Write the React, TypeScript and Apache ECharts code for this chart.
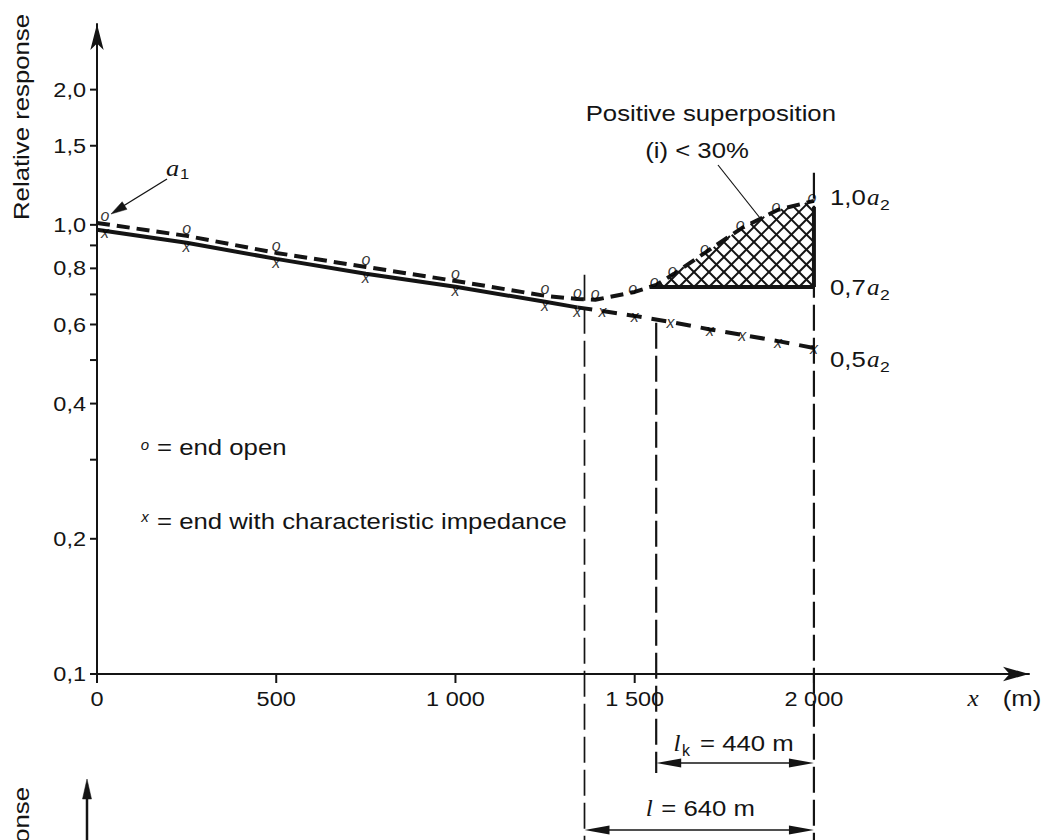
import React, { useEffect, useRef } from 'react';
import * as echarts from 'echarts';

const FONT = "'Liberation Sans', Arial, Helvetica, sans-serif";
const SERIF = "'Liberation Serif', 'Times New Roman', serif";
const INK = '#141414';
const STRETCH = 1.17;

// "o" = end open
const openX = [0, 250, 500, 750, 1000, 1250, 1340, 1390, 1500, 1560, 1610, 1700, 1800, 1900, 2000];
const openY = [1.01, 0.945, 0.866, 0.806, 0.75, 0.695, 0.684, 0.681, 0.709, 0.735, 0.778, 0.871, 0.985, 1.08, 1.131];

// "x" = end with characteristic impedance
const impX = [0, 250, 500, 750, 1000, 1250, 1340, 1410, 1500, 1600, 1710, 1800, 1900, 2000];
const impY = [0.975, 0.912, 0.84, 0.778, 0.728, 0.674, 0.655, 0.643, 0.627, 0.608, 0.585, 0.569, 0.551, 0.532];
const impSolidEnd = 1340;

// axes
const yTicks = [0.1, 0.2, 0.3, 0.4, 0.5, 0.6, 0.7, 0.8, 0.9, 1.0, 1.5, 2.0];
const yTickLabels = ['0,1', '0,2', '', '0,4', '', '0,6', '', '0,8', '', '1,0', '1,5', '2,0'];
const xTicks = [0, 500, 1000, 1500, 2000];
const xTickLabels = ['0', '500', '1 000', '1 500', '2 000'];
const yMin = 0.1;
const yMax = 2.8;
const xMin = 0;
const xMax = 2600;

// geometry of the line
const lineEnd = 2000;
const lineLength = 640; // l
const criticalLength = 440; // l_k
const hatchLevel = 0.727; // 0,7 a2
const guideX = [lineEnd - lineLength, lineEnd - criticalLength, lineEnd];
const guideTop = [0.774, 0.605, 1.306];
const dimLengths = [criticalLength, lineLength];
const dimSubs = ['k', ''];

const openData = openX.map((x, i) => [x, openY[i]]);
const impData = impX.map((x, i) => [x, impY[i]]);
const impSolid = impData.filter((d) => d[0] <= impSolidEnd);
const impDashed = impData.filter((d) => d[0] >= impSolidEnd);
const openMinIdx = openY.indexOf(Math.min(...openY));

type TOpt = { size?: number; family?: string; italic?: boolean; align?: string; rot?: number; sx?: number };
function txt(text: string, x: number, y: number, o: TOpt = {}) {
  const size = o.size ?? 22;
  const fam = o.family ?? FONT;
  const align = o.align ?? 'left';
  return {
    type: 'text',
    x,
    y,
    rotation: o.rot ?? 0,
    scaleX: o.sx ?? STRETCH,
    silent: true,
    z: 20,
    style: {
      text,
      fill: INK,
      font: `${o.italic ? 'italic ' : ''}${size}px ${fam}`,
      textAlign: align,
      textVerticalAlign: 'middle',
      align,
      verticalAlign: 'middle',
    },
  };
}

function arrowHead(tip: number[], from: number[], len: number, half: number) {
  const dx = tip[0] - from[0];
  const dy = tip[1] - from[1];
  const d = Math.hypot(dx, dy) || 1;
  const ux = dx / d;
  const uy = dy / d;
  const bx = tip[0] - ux * len;
  const by = tip[1] - uy * len;
  return {
    type: 'polygon',
    silent: true,
    z: 20,
    shape: { points: [tip, [bx - uy * half, by + ux * half], [bx + uy * half, by - ux * half]] },
    style: { fill: INK, stroke: INK, lineWidth: 0.5 },
  };
}

function seg(x1: number, y1: number, x2: number, y2: number, w: number, dash?: number[]) {
  return {
    type: 'line',
    silent: true,
    z: 20,
    shape: { x1, y1, x2, y2 },
    style: { stroke: INK, lineWidth: w, lineDash: dash },
  };
}

function buildOption() {
  const glyphLabel = {
    show: true,
    position: 'inside',
    fontFamily: FONT,
    fontStyle: 'italic',
    fontSize: 16,
    lineHeight: 12,
    color: '#000',
  };

  const graphic: any[] = [
    txt('Relative response', 21, 117, { align: 'center', rot: Math.PI / 2 }),
    txt('Relative response', 21, 890, { align: 'center', rot: Math.PI / 2 }),
    seg(87, 840, 87, 795, 2.5),
    arrowHead([87, 779], [87, 840], 20, 4.5),
    txt('a', 166, 168, { family: SERIF, italic: true, size: 24, sx: 1.1 }),
    txt('1', 180, 174, { size: 15, sx: 1.1 }),
    seg(167, 179, 120, 208, 1.4),
    arrowHead([111, 214], [167, 179], 16, 4.5),
    txt('Positive superposition', 836, 113, { align: 'right' }),
    txt('(i) < 30%', 697, 150, { align: 'center' }),
    seg(718, 165, 760, 218, 1.2),
    txt('1,0', 830, 197),
    txt('a', 867, 197, { family: SERIF, italic: true, size: 24, sx: 1.05 }),
    txt('2', 880, 204, { size: 15 }),
    txt('0,7', 830, 287),
    txt('a', 867, 287, { family: SERIF, italic: true, size: 24, sx: 1.05 }),
    txt('2', 880, 294, { size: 15 }),
    txt('0,5', 830, 359),
    txt('a', 867, 359, { family: SERIF, italic: true, size: 24, sx: 1.05 }),
    txt('2', 880, 366, { size: 15 }),
    txt('o', 145, 444, { italic: true, size: 15, align: 'center', sx: 1 }),
    txt('= end open', 157, 447),
    txt('x', 145, 516, { italic: true, size: 15, align: 'center', sx: 1 }),
    txt('= end with characteristic impedance', 157, 521),
    txt('x', 973, 698, { family: SERIF, italic: true, size: 24, align: 'center', sx: 1.05 }),
    txt('(m)', 1022, 698, { align: 'center' }),
  ];

  return {
    animation: false,
    backgroundColor: '#fff',
    textStyle: { fontFamily: FONT },
    grid: { left: 97, right: 16, top: 24, bottom: 166, containLabel: false },
    xAxis: {
      type: 'value',
      min: xMin,
      max: xMax,
      axisLine: { show: true, symbol: ['none', 'arrow'], symbolSize: [11, 26], lineStyle: { color: INK, width: 2 } },
      axisTick: { show: false },
      axisLabel: { show: false },
      splitLine: { show: false },
    },
    yAxis: {
      type: 'log',
      logBase: 10,
      min: yMin,
      max: yMax,
      axisLine: { show: true, symbol: ['none', 'arrow'], symbolSize: [10, 26], lineStyle: { color: INK, width: 2 } },
      axisTick: { show: false },
      axisLabel: { show: false },
      splitLine: { show: false },
      minorTick: { show: false },
      minorSplitLine: { show: false },
    },
    graphic,
    series: [
      {
        name: 'end open',
        type: 'line',
        data: openData,
        symbol: 'none',
        z: 3,
        lineStyle: { color: INK, width: 4, type: [13, 7] },
        silent: true,
      },
      {
        name: 'end with characteristic impedance',
        type: 'line',
        data: impSolid,
        symbol: 'none',
        z: 3,
        lineStyle: { color: INK, width: 4, type: 'solid' },
        silent: true,
      },
      {
        name: 'end with characteristic impedance (dashed)',
        type: 'line',
        data: impDashed,
        symbol: 'none',
        z: 3,
        lineStyle: { color: INK, width: 4, type: [15, 10] },
        silent: true,
      },
      {
        type: 'scatter',
        symbol: 'circle',
        symbolSize: 1,
        itemStyle: { color: 'rgba(0,0,0,0)' },
        z: 6,
        silent: true,
        data: openData.map((d, i) => ({
          value: d,
          label: { offset: i === 0 ? [8, -7] : i <= 5 ? [0, -7] : i <= openMinIdx ? [0, -6] : [-2, -3] },
        })),
        label: { ...glyphLabel, formatter: 'o' },
      },
      {
        type: 'scatter',
        symbol: 'circle',
        symbolSize: 1,
        itemStyle: { color: 'rgba(0,0,0,0)' },
        z: 6,
        silent: true,
        data: impData.map((d, i) => ({
          value: d,
          label: { offset: i === 0 ? [8, 3] : i <= 6 ? [0, 4] : [0, 1] },
        })),
        label: { ...glyphLabel, formatter: 'x' },
      },
      // hatched area of positive superposition
      {
        type: 'custom',
        coordinateSystem: 'cartesian2d',
        silent: true,
        clip: false,
        z: 4,
        data: [[lineEnd, hatchLevel]],
        renderItem: (params: any, api: any) => {
          const end = api.coord([lineEnd, hatchLevel]);
          const yL = end[1];
          const pts = openData.map((d) => api.coord(d));
          let start = -1;
          let cross: number[] | null = null;
          for (let i = openMinIdx + 1; i < pts.length; i++) {
            if (pts[i][1] < yL && pts[i - 1][1] >= yL) {
              const a = pts[i - 1];
              const b = pts[i];
              const t = (yL - a[1]) / (b[1] - a[1]);
              cross = [a[0] + t * (b[0] - a[0]), yL];
              start = i;
              break;
            }
          }
          if (!cross) return null;
          const top = pts.slice(start);
          const last = top[top.length - 1];
          const poly = [cross, ...top, [last[0], yL]];
          const children: any[] = [];
          const step = 15;
          [1, -1].forEach((s) => {
            const cs = poly.map((p) => p[1] - s * p[0]);
            const cMin = Math.min(...cs);
            const cMax = Math.max(...cs);
            const base = yL - s * last[0];
            for (let k = Math.ceil((cMin - base) / step); base + k * step <= cMax; k++) {
              const c = base + k * step;
              const hits: number[] = [];
              for (let j = 0; j < poly.length; j++) {
                const P = poly[j];
                const Q = poly[(j + 1) % poly.length];
                const fP = P[1] - s * P[0] - c;
                const fQ = Q[1] - s * Q[0] - c;
                if ((fP <= 0 && fQ > 0) || (fP > 0 && fQ <= 0)) {
                  const t = fP / (fP - fQ);
                  hits.push(P[0] + t * (Q[0] - P[0]));
                }
              }
              hits.sort((a, b) => a - b);
              for (let h = 0; h + 1 < hits.length; h += 2) {
                children.push({
                  type: 'line',
                  shape: { x1: hits[h], y1: s * hits[h] + c, x2: hits[h + 1], y2: s * hits[h + 1] + c },
                  style: { stroke: INK, lineWidth: 2 },
                });
              }
            }
          });
          children.push({ type: 'line', shape: { x1: cross[0], y1: yL, x2: last[0], y2: yL }, style: { stroke: INK, lineWidth: 4 } });
          children.push({ type: 'line', shape: { x1: last[0], y1: yL, x2: last[0], y2: last[1] + 6 }, style: { stroke: INK, lineWidth: 4 } });
          return { type: 'group', children };
        },
      },
      // vertical guide lines
      {
        type: 'custom',
        coordinateSystem: 'cartesian2d',
        silent: true,
        clip: false,
        z: 2,
        data: guideX.map((x, i) => [x, guideTop[i]]),
        renderItem: (params: any, api: any) => {
          const i = params.dataIndex;
          const top = api.coord([api.value(0), api.value(1)]);
          const axisY = api.coord([api.value(0), yMin])[1];
          const drop = [170, 99, 170][i];
          const width = [1.7, 2.2, 2.2][i];
          return {
            type: 'line',
            shape: { x1: top[0], y1: top[1], x2: top[0], y2: axisY + drop },
            style: { stroke: INK, lineWidth: width, lineDash: [26, 7] },
          };
        },
      },
      // dimension arrows l and l_k
      {
        type: 'custom',
        coordinateSystem: 'cartesian2d',
        silent: true,
        clip: false,
        z: 5,
        data: dimLengths.map((L) => [lineEnd - L, yMin]),
        renderItem: (params: any, api: any) => {
          const i = params.dataIndex;
          const a = api.coord([api.value(0), yMin]);
          const b = api.coord([lineEnd, yMin]);
          const y = a[1] + [89, 156][i];
          const mid = (a[0] + b[0]) / 2;
          const L = lineEnd - api.value(0);
          const kids: any[] = [
            { type: 'line', shape: { x1: a[0] + 20, y1: y, x2: b[0] - 20, y2: y }, style: { stroke: INK, lineWidth: 1.6 } },
            { type: 'polygon', shape: { points: [[a[0], y], [a[0] + 25, y - 4.5], [a[0] + 25, y + 4.5]] }, style: { fill: INK } },
            { type: 'polygon', shape: { points: [[b[0], y], [b[0] - 25, y - 4.5], [b[0] - 25, y + 4.5]] }, style: { fill: INK } },
          ];
          const sub = dimSubs[i];
          const ty = y - (sub ? 20 : 22);
          const lx = mid - (sub ? 58 : 50);
          const ex = mid - (sub ? 35 : 38);
          kids.push({
            type: 'text', x: lx, y: ty, scaleX: 1.05,
            style: { text: 'l', fill: INK, font: `italic 24px ${SERIF}`, align: 'center', verticalAlign: 'middle', textAlign: 'center', textVerticalAlign: 'middle' },
          });
          if (sub) {
            kids.push({
              type: 'text', x: mid - 53, y: ty + 7,
              style: { text: sub, fill: INK, font: `16px ${FONT}`, align: 'left', verticalAlign: 'middle', textAlign: 'left', textVerticalAlign: 'middle' },
            });
          }
          kids.push({
            type: 'text', x: ex, y: ty, scaleX: STRETCH,
            style: { text: `= ${L} m`, fill: INK, font: `22px ${FONT}`, align: 'left', verticalAlign: 'middle', textAlign: 'left', textVerticalAlign: 'middle' },
          });
          return { type: 'group', children: kids };
        },
      },
      // y ticks and labels
      {
        type: 'custom',
        coordinateSystem: 'cartesian2d',
        silent: true,
        clip: false,
        z: 5,
        data: yTicks.map((v) => [xMin, v]),
        renderItem: (params: any, api: any) => {
          const p = api.coord([api.value(0), api.value(1)]);
          const lab = yTickLabels[params.dataIndex];
          const kids: any[] = [
            { type: 'line', shape: { x1: p[0] - 7, y1: p[1], x2: p[0], y2: p[1] }, style: { stroke: INK, lineWidth: 2 } },
          ];
          if (lab) {
            kids.push({
              type: 'text', x: p[0] - 11, y: p[1], scaleX: 1.12,
              style: { text: lab, fill: INK, font: `21px ${FONT}`, align: 'right', verticalAlign: 'middle', textAlign: 'right', textVerticalAlign: 'middle' },
            });
          }
          return { type: 'group', children: kids };
        },
      },
      // x ticks and labels
      {
        type: 'custom',
        coordinateSystem: 'cartesian2d',
        silent: true,
        clip: false,
        z: 5,
        data: xTicks.map((v) => [v, yMin]),
        renderItem: (params: any, api: any) => {
          const p = api.coord([api.value(0), api.value(1)]);
          const lab = xTickLabels[params.dataIndex];
          return {
            type: 'group',
            children: [
              { type: 'line', shape: { x1: p[0], y1: p[1], x2: p[0], y2: p[1] + 9 }, style: { stroke: INK, lineWidth: 2 } },
              {
                type: 'text', x: p[0], y: p[1] + 25, scaleX: 1.12,
                style: { text: lab, fill: INK, font: `21px ${FONT}`, align: 'center', verticalAlign: 'middle', textAlign: 'center', textVerticalAlign: 'middle' },
              },
            ],
          };
        },
      },
    ],
  };
}

export default function App() {
  const ref = useRef<HTMLDivElement>(null);
  useEffect(() => {
    if (!ref.current) return;
    const chart = echarts.init(ref.current, null, { renderer: 'svg' });
    chart.setOption(buildOption() as any);
    return () => chart.dispose();
  }, []);
  return (
    <div
      ref={ref}
      style={{ position: 'fixed', left: 0, top: 0, width: 1045, height: 840, background: '#fff' }}
    />
  );
}
